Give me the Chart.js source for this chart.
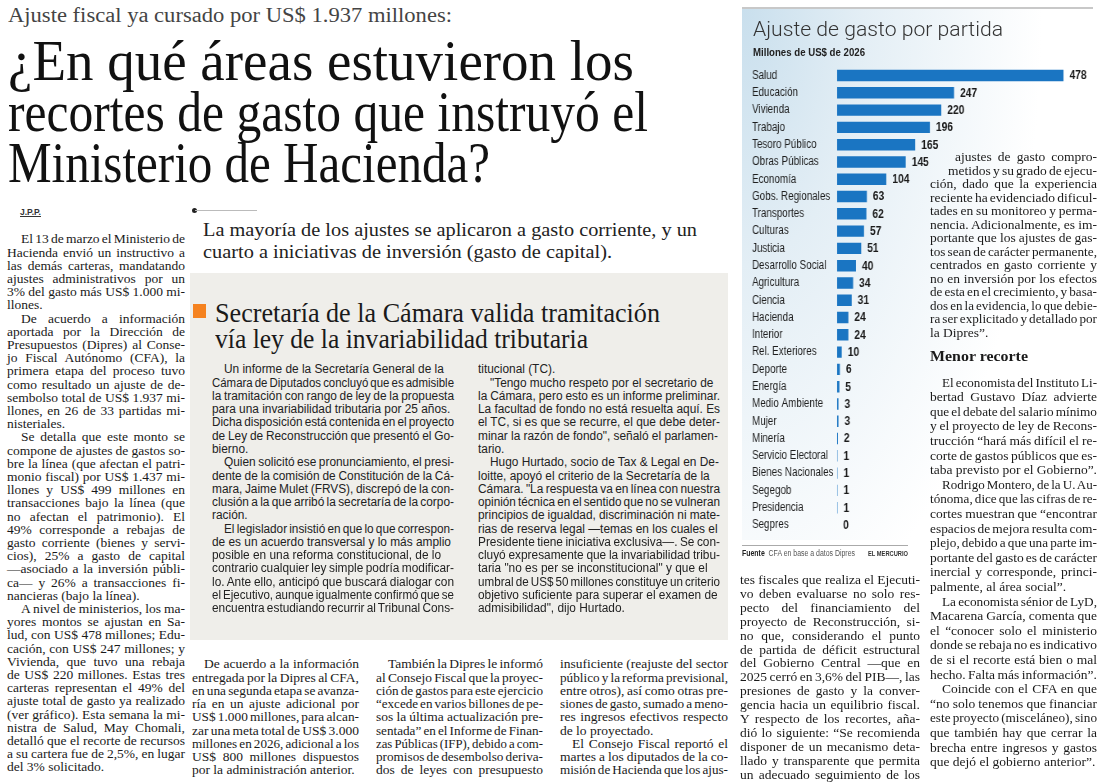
<!DOCTYPE html>
<html lang="es">
<head>
<meta charset="utf-8">
<title>Ajuste de gasto por partida</title>
<script src="https://cdn.jsdelivr.net/npm/chart.js@4.4.1/dist/chart.umd.min.js"></script>
<style>
  html, body { margin: 0; padding: 0; }
  body { width: 1100px; height: 782px; overflow: hidden; position: relative; background: #fff; color: #1a1a1a; }
  .abs { position: absolute; }
  .ln { position: absolute; white-space: nowrap; }
  .t { display: inline-block; transform-origin: 0 50%; white-space: nowrap; }
  .serif { font-family: "Liberation Serif", "Times New Roman", serif; }
  .cuerpo { font-family: "Liberation Serif", "Times New Roman", serif; font-size: 13.5px; color: #1a1a1a; }
  .caja { font-family: "Liberation Sans", Arial, sans-serif; font-size: 12.5px; color: #222; }
  .fit { position: absolute; white-space: nowrap; }
  #panel { left: 742px; top: 9px; width: 355px; height: 531px;
    background: radial-gradient(ellipse 300px 640px at 0% 0%, #c9dfed 0%, #e3eef5 40%, rgba(255,255,255,0) 100%); }
  /* el gráfico se dibuja más ancho y se comprime: letra tipo "narrow" */
  #grafico { left: 742px; top: 0; width: 434px; height: 560px; transform: scaleX(0.82); transform-origin: 0 0; }
</style>
</head>
<body>

<!-- encabezado -->
<div class="fit serif" data-w="444" style="left:8px;top:5px;font-size:20px;line-height:20px;color:#444;"><span class="t">Ajuste fiscal ya cursado por US$ 1.937 millones:</span></div>
<div class="fit serif" data-w="626" style="left:8px;top:33px;font-size:56px;line-height:56px;color:#111;"><span class="t">¿En qué áreas estuvieron los</span></div>
<div class="fit serif" data-w="640" style="left:8px;top:84px;font-size:56px;line-height:56px;color:#111;"><span class="t">recortes de gasto que instruyó el</span></div>
<div class="fit serif" data-w="482" style="left:8px;top:135px;font-size:56px;line-height:56px;color:#111;"><span class="t">Ministerio de Hacienda?</span></div>

<div class="abs" style="left:20px;top:207px;font:bold 8.5px 'Liberation Sans', sans-serif;text-decoration:underline;color:#333;">J.P.P.</div>

<div class="abs" style="left:192px;top:208px;width:5px;height:5px;border-radius:50%;background:#222;"></div>
<div class="abs" style="left:195px;top:210px;width:62px;height:1px;background:#bbb;"></div>

<div class="fit serif" data-w="494" style="left:203px;top:219px;font-size:18px;line-height:22px;color:#222;"><span class="t">La mayoría de los ajustes se aplicaron a gasto corriente, y un</span></div>
<div class="fit serif" data-w="409" style="left:203px;top:241px;font-size:18px;line-height:22px;color:#222;"><span class="t">cuarto a iniciativas de inversión (gasto de capital).</span></div>

<!-- recuadro -->
<div class="abs" style="left:190px;top:273px;width:538px;height:367px;background:#efeeea;"></div>
<div class="abs" style="left:193px;top:304px;width:13px;height:14px;background:#f5821f;"></div>
<div class="fit serif" data-w="445" style="left:215px;top:300px;font-size:27px;line-height:27px;color:#1a1a1a;"><span class="t">Secretaría de la Cámara valida tramitación</span></div>
<div class="fit serif" data-w="373" style="left:215px;top:326px;font-size:27px;line-height:27px;color:#1a1a1a;"><span class="t">vía ley de la invariabilidad tributaria</span></div>

<!-- gráfico -->
<div class="abs" style="left:742px;top:7px;width:351px;height:2px;background:#c8c8c8;"></div>
<div id="panel" class="abs"></div>
<div id="grafico" class="abs"><canvas id="barras"></canvas></div>
<div class="fit" data-w="250" style="left:753px;top:19px;font:300 20px Roboto, 'Liberation Sans', sans-serif;line-height:20px;color:#333;"><span class="t">Ajuste de gasto por partida</span></div>
<div class="fit" data-w="112" style="left:753px;top:46px;font:bold 11px 'Liberation Sans', sans-serif;line-height:12px;color:#222;"><span class="t">Millones de US$ de 2026</span></div>
<div class="abs" style="left:742px;top:545px;width:166px;height:1px;background:#aaa;"></div>
<div class="fit" data-w="113" style="left:742px;top:548px;font:8.5px 'Liberation Sans', sans-serif;line-height:11px;color:#555;"><span class="t"><b style="color:#222">Fuente</b>&nbsp; CFA en base a datos Dipres</span></div>
<div class="fit" data-w="40" style="left:868px;top:549px;font:bold 7px 'Liberation Sans', sans-serif;line-height:10px;color:#333;"><span class="t">EL MERCURIO</span></div>

<div class="fit serif" data-w="98" style="left:930px;top:347px;font-size:15.5px;font-weight:bold;line-height:18px;color:#1a1a1a;"><span class="t">Menor recorte</span></div>

<script>
// datos del gráfico
const partidas = ["Salud", "Educación", "Vivienda", "Trabajo", "Tesoro Público", "Obras Públicas",
  "Economía", "Gobs. Regionales", "Transportes", "Culturas", "Justicia", "Desarrollo Social",
  "Agricultura", "Ciencia", "Hacienda", "Interior", "Rel. Exteriores", "Deporte", "Energía",
  "Medio Ambiente", "Mujer", "Minería", "Servicio Electoral", "Bienes Nacionales", "Segegob",
  "Presidencia", "Segpres"];
const valores = [478, 247, 220, 196, 165, 145, 104, 63, 62, 57, 51, 40, 34, 31, 24, 24, 10, 6, 5, 3, 3, 2, 1, 1, 1, 1, 0];
const ejeMax = 540;
const compresion = 0.82; // mismo factor que #grafico

// textos del artículo (¶ = sangría, ¦ = fin de párrafo)
const colIzq = [
  "¶El 13 de marzo el Ministerio de", "Hacienda envió un instructivo a", "las demás carteras, mandatando",
  "ajustes administrativos por un", "3% del gasto más US$ 1.000 mi-", "llones.¦",
  "¶De acuerdo a información", "aportada por la Dirección de", "Presupuestos (Dipres) al Conse-",
  "jo Fiscal Autónomo (CFA), la", "primera etapa del proceso tuvo", "como resultado un ajuste de de-",
  "sembolso total de US$ 1.937 mi-", "llones, en 26 de 33 partidas mi-", "nisteriales.¦",
  "¶Se detalla que este monto se", "compone de ajustes de gastos so-", "bre la línea (que afectan el patri-",
  "monio fiscal) por US$ 1.437 mi-", "llones y US$ 499 millones en", "transacciones bajo la línea (que",
  "no afectan el patrimonio). El", "49% corresponde a rebajas de", "gasto corriente (bienes y servi-",
  "cios), 25% a gasto de capital", "—asociado a la inversión públi-", "ca— y 26% a transacciones fi-",
  "nancieras (bajo la línea).¦",
  "¶A nivel de ministerios, los ma-", "yores montos se ajustan en Sa-", "lud, con US$ 478 millones; Edu-",
  "cación, con US$ 247 millones; y", "Vivienda, que tuvo una rebaja", "de US$ 220 millones. Estas tres",
  "carteras representan el 49% del", "ajuste total de gasto ya realizado", "(ver gráfico). Esta semana la mi-",
  "nistra de Salud, May Chomali,", "detalló que el recorte de recursos", "a su cartera fue de 2,5%, en lugar",
  "del 3% solicitado.¦"
];
const cajaCol1 = [
  "¶Un informe de la Secretaría General de la", "Cámara de Diputados concluyó que es admisible",
  "la tramitación con rango de ley de la propuesta", "para una invariabilidad tributaria por 25 años.",
  "Dicha disposición está contenida en el proyecto", "de Ley de Reconstrucción que presentó el Go-", "bierno.¦",
  "¶Quien solicitó ese pronunciamiento, el presi-", "dente de la comisión de Constitución de la Cá-",
  "mara, Jaime Mulet (FRVS), discrepó de la con-", "clusión a la que arribó la secretaría de la corpo-", "ración.¦",
  "¶El legislador insistió en que lo que correspon-", "de es un acuerdo transversal y lo más amplio",
  "posible en una reforma constitucional, de lo", "contrario cualquier ley simple podría modificar-",
  "lo. Ante ello, anticipó que buscará dialogar con", "el Ejecutivo, aunque igualmente confirmó que se",
  "encuentra estudiando recurrir al Tribunal Cons-"
];
const cajaCol2 = [
  "titucional (TC).¦", "¶\"Tengo mucho respeto por el secretario de", "la Cámara, pero esto es un informe preliminar.",
  "La facultad de fondo no está resuelta aquí. Es", "el TC, si es que se recurre, el que debe deter-",
  "minar la razón de fondo\", señaló el parlamen-", "tario.¦",
  "¶Hugo Hurtado, socio de Tax & Legal en De-", "loitte, apoyó el criterio de la Secretaría de la",
  "Cámara. \"La respuesta va en línea con nuestra", "opinión técnica en el sentido que no se vulneran",
  "principios de igualdad, discriminación ni mate-", "rias de reserva legal —temas en los cuales el",
  "Presidente tiene iniciativa exclusiva—. Se con-", "cluyó expresamente que la invariabilidad tribu-",
  "taria \"no es per se inconstitucional\" y que el", "umbral de US$ 50 millones constituye un criterio",
  "objetivo suficiente para superar el examen de", "admisibilidad\", dijo Hurtado.¦"
];
const bajo1 = [
  "¶De acuerdo a la información", "entregada por la Dipres al CFA,", "en una segunda etapa se avanza-",
  "ría en un ajuste adicional por", "US$ 1.000 millones, para alcan-", "zar una meta total de US$ 3.000",
  "millones en 2026, adicional a los", "US$ 800 millones dispuestos", "por la administración anterior.¦"
];
const bajo2 = [
  "¶También la Dipres le informó", "al Consejo Fiscal que la proyec-", "ción de gastos para este ejercicio",
  "“excede en varios billones de pe-", "sos la última actualización pre-", "sentada” en el Informe de Finan-",
  "zas Públicas (IFP), debido a com-", "promisos de desembolso deriva-", "dos de leyes con presupuesto"
];
const bajo3 = [
  "insuficiente (reajuste del sector", "público y la reforma previsional,", "entre otros), así como otras pre-",
  "siones de gasto, sumado a meno-", "res ingresos efectivos respecto", "de lo proyectado.¦",
  "¶El Consejo Fiscal reportó el", "martes a los diputados de la co-", "misión de Hacienda que los ajus-"
];
const colA = [
  "tes fiscales que realiza el Ejecuti-", "vo deben evaluarse no solo res-", "pecto del financiamiento del",
  "proyecto de Reconstrucción, si-", "no que, considerando el punto", "de partida de déficit estructural",
  "del Gobierno Central —que en", "2025 cerró en 3,6% del PIB—, las", "presiones de gasto y la conver-",
  "gencia hacia un equilibrio fiscal.", "Y respecto de los recortes, aña-", "dió lo siguiente: “Se recomienda",
  "disponer de un mecanismo deta-", "llado y transparente que permita", "un adecuado seguimiento de los"
];
const colB1 = [
  "ajustes de gasto compro-", "metidos y su grado de ejecu-", "ción, dado que la experiencia",
  "reciente ha evidenciado dificul-", "tades en su monitoreo y perma-", "nencia. Adicionalmente, es im-",
  "portante que los ajustes de gas-", "tos sean de carácter permanente,", "centrados en gasto corriente y",
  "no en inversión por los efectos", "de esta en el crecimiento, y basa-", "dos en la evidencia, lo que debie-",
  "ra ser explicitado y detallado por", "la Dipres”.¦"
];
const colB2 = [
  "¶El economista del Instituto Li-", "bertad Gustavo Díaz advierte", "que el debate del salario mínimo",
  "y el proyecto de ley de Recons-", "trucción “hará más difícil el re-", "corte de gastos públicos que es-",
  "taba previsto por el Gobierno”.¦",
  "¶Rodrigo Montero, de la U. Au-", "tónoma, dice que las cifras de re-", "cortes muestran que “encontrar",
  "espacios de mejora resulta com-", "plejo, debido a que una parte im-", "portante del gasto es de carácter",
  "inercial y corresponde, princi-", "palmente, al área social”.¦",
  "¶La economista sénior de LyD,", "Macarena García, comenta que", "el “conocer solo el ministerio",
  "donde se rebaja no es indicativo", "de si el recorte está bien o mal", "hecho. Falta más información”.¦",
  "¶Coincide con el CFA en que", "“no solo tenemos que financiar", "este proyecto (misceláneo), sino",
  "que también hay que cerrar la", "brecha entre ingresos y gastos", "que dejó el gobierno anterior”.¦"
];

function columna(x, y0, ancho, paso, clase, lineas, sangria, desplaz, ragged, sx) {
  desplaz = desplaz || {};
  sx = sx || 1;
  const col = document.createElement("div");
  col.className = "abs " + clase;
  col.style.left = x + "px";
  col.style.top = (y0 - paso / 2) + "px";
  col.style.width = ancho + "px";
  document.body.appendChild(col);
  lineas.forEach((raw, i) => {
    const ind = raw.startsWith("¶"), fin = raw.endsWith("¦");
    const txt = raw.replace("¶", "").replace("¦", "");
    const off = (ind ? sangria : 0) + (desplaz[i] || 0);
    const d = document.createElement("div");
    d.className = "ln";
    d.style.top = (i * paso) + "px";
    d.style.left = off + "px";
    d.style.height = paso + "px";
    d.style.lineHeight = paso + "px";
    const s = document.createElement("span");
    s.className = "t";
    s.textContent = txt;
    s.style.transform = "scaleX(" + sx + ")";
    d.appendChild(s);
    col.appendChild(d);
    const disp = ancho - off;
    const esp = (txt.match(/ /g) || []).length;
    let nat = s.getBoundingClientRect().width;
    if (esp && ((!fin && !ragged) || nat > disp)) {
      const ws = Math.max(-1.2, (disp - nat) / esp / sx);
      s.style.wordSpacing = ws + "px";
      nat = s.getBoundingClientRect().width;
    }
    if (nat > disp) s.style.transform = "scaleX(" + (sx * disp / nat) + ")";
  });
}

const etiquetas = {
  id: "etiquetas",
  afterDatasetsDraw(chart) {
    const ctx = chart.ctx;
    const meta = chart.getDatasetMeta(0);
    ctx.save();
    ctx.font = "bold 12.5px 'Liberation Sans', Arial, sans-serif";
    ctx.fillStyle = "#1a1a1a";
    ctx.textBaseline = "middle";
    ctx.textAlign = "left";
    meta.data.forEach((bar, i) => ctx.fillText(String(valores[i]), bar.x + 6 / compresion, bar.y + 0.5));
    ctx.restore();
  }
};

function dibujar() {
  document.querySelectorAll(".fit").forEach(el => {
    const s = el.querySelector(".t");
    const nat = s.getBoundingClientRect().width;
    s.style.transform = "scaleX(" + (Number(el.dataset.w) / nat) + ")";
  });

  columna(7, 239, 178, 13.2, "cuerpo", colIzq, 14);
  columna(212, 370, 242, 13.27, "caja", cajaCol1, 12, null, true, 0.95);
  columna(478, 370, 242, 13.27, "caja", cajaCol2, 12, null, true, 0.95);
  columna(192, 664, 167, 13.25, "cuerpo", bajo1, 12);
  columna(376, 664, 167, 13.25, "cuerpo", bajo2, 12);
  columna(560, 664, 168, 13.25, "cuerpo", bajo3, 12);
  columna(740, 580, 180, 13.9, "cuerpo", colA, 12);
  columna(930, 157, 167, 13.5, "cuerpo", colB1, 12, {0: 25, 1: 18});
  columna(930, 383, 167, 14.6, "cuerpo", colB2, 12);

  const ctx = document.getElementById("barras").getContext("2d");
  new Chart(ctx, {
    type: "bar",
    data: {
      labels: partidas,
      datasets: [{
        data: valores,
        backgroundColor: "#1a75c2",
        borderWidth: 0,
        categoryPercentage: 1,
        barPercentage: 0.66
      }]
    },
    options: {
      indexAxis: "y",
      responsive: true,
      maintainAspectRatio: false,
      animation: false,
      layout: { padding: { top: 66.9, bottom: 26.4, left: 10 / compresion, right: 5 / compresion } },
      plugins: { legend: { display: false }, tooltip: { enabled: false } },
      scales: {
        x: { display: false, min: 0, max: ejeMax },
        y: {
          grid: { display: false },
          border: { display: false },
          afterFit: (scale) => { scale.width = 85 / compresion; },
          ticks: {
            autoSkip: false,
            crossAlign: "far",
            color: "#1e1e1e",
            padding: 0,
            font: { family: "'Liberation Sans', Arial, sans-serif", size: 12 }
          }
        }
      }
    },
    plugins: [etiquetas]
  });
}

document.fonts.ready.then(dibujar);
</script>
</body>
</html>
